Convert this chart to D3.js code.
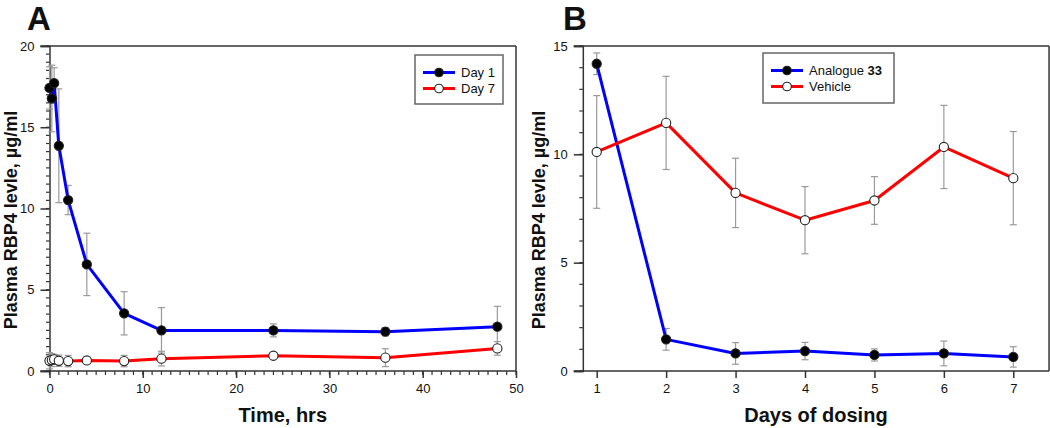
<!DOCTYPE html>
<html>
<head>
<meta charset="utf-8">
<script src="https://cdn.jsdelivr.net/npm/d3@7"></script>
<style>
  html, body { margin: 0; padding: 0; background: #fff; }
  svg { display: block; }
  text { font-family: Arial, "Liberation Sans", sans-serif; }
</style>
</head>
<body>
<svg id="chart" width="1050" height="428"></svg>
<script>
// ---------- Panel A data ----------
const timeHrs   = [0, 0.25, 0.5, 1, 2, 4, 8, 12, 24, 36, 48];
const day1Mean  = [17.42, 16.77, 17.71, 13.86, 10.52, 6.56, 3.55, 2.50, 2.50, 2.42, 2.73];
const day1Err   = [1.3, 2.05, 0.95, 3.5, 0.9, 1.92, 1.33, 1.4, 0.4, 0.25, 1.25];
const day7Mean  = [0.63, 0.67, 0.72, 0.63, 0.61, 0.65, 0.61, 0.76, 0.94, 0.82, 1.39];
const day7Err   = [0.5, 0.4, 0.3, 0.35, 0.35, 0.1, 0.35, 0.45, 0.1, 0.55, 0.42];
const xTicksA   = [0, 10, 20, 30, 40, 50];
const yTicksA   = [0, 5, 10, 15, 20];
const legendA   = ["Day 1", "Day 7"];

// ---------- Panel B data ----------
const days         = [1, 2, 3, 4, 5, 6, 7];
const analogueMean = [14.18, 1.46, 0.81, 0.92, 0.74, 0.81, 0.65];
const analogueErr  = [0.5, 0.5, 0.5, 0.4, 0.28, 0.57, 0.47];
const vehicleMean  = [10.11, 11.45, 8.22, 6.96, 7.87, 10.34, 8.90];
const vehicleErr   = [2.6, 2.15, 1.6, 1.55, 1.1, 1.92, 2.15];
const xTicksB      = [1, 2, 3, 4, 5, 6, 7];
const yTicksB      = [0, 5, 10, 15];

const svg = d3.select("#chart");
const BLUE = "#0000ff", RED = "#ff0000", AXIS = "#333", ERR = "#9a9a9a";

function panel(cfg) {
  const g = svg.append("g");
  const x = d3.scaleLinear().domain(cfg.xDomain).range([cfg.left, cfg.right]);
  const y = d3.scaleLinear().domain(cfg.yDomain).range([cfg.bottom, cfg.top]);
  const x0 = x(cfg.yAxisAt);
  const xR = x(cfg.xEnd);
  const tickL = 9;

  // frame: top, bottom, right
  const fr = g.append("g").attr("stroke", AXIS).attr("stroke-width", 1.5).attr("fill", "none");
  fr.append("line").attr("x1", x0 - tickL).attr("x2", xR).attr("y1", cfg.top).attr("y2", cfg.top);
  fr.append("line").attr("x1", x0 - tickL).attr("x2", xR).attr("y1", cfg.bottom).attr("y2", cfg.bottom);
  fr.append("line").attr("x1", xR).attr("x2", xR).attr("y1", cfg.top).attr("y2", cfg.bottom);

  // y axis at data position
  const yAxis = d3.axisLeft(y).tickValues(cfg.yTicks).tickSize(tickL).tickPadding(6).tickFormat(d3.format("d"));
  const ya = g.append("g").attr("transform", `translate(${x0},0)`).call(yAxis);
  ya.select(".domain").attr("stroke", AXIS).attr("stroke-width", 1.5);
  ya.selectAll(".tick line").attr("stroke", AXIS).attr("stroke-width", 1.5);
  ya.selectAll(".tick text").attr("font-size", 13).attr("fill", "#111");
  // y minor ticks
  const yMinor = d3.range(cfg.yDomain[0], cfg.yDomain[1] + 1e-9, cfg.yMinor);
  g.append("g").selectAll("line").data(yMinor).join("line")
    .attr("x1", x0 - 3.5).attr("x2", x0).attr("y1", d => y(d)).attr("y2", d => y(d))
    .attr("stroke", AXIS).attr("stroke-width", 1.2);

  // x axis
  const xAxis = d3.axisBottom(x).tickValues(cfg.xTicks).tickSize(7).tickPadding(6).tickFormat(d3.format("d"));
  const xa = g.append("g").attr("transform", `translate(0,${cfg.bottom})`).call(xAxis);
  xa.select(".domain").remove();
  xa.selectAll(".tick line").attr("stroke", AXIS).attr("stroke-width", 1.5);
  xa.selectAll(".tick text").attr("font-size", 13).attr("fill", "#111");
  if (cfg.xMinor) {
    const xMinor = d3.range(cfg.xTicks[0], cfg.xTicks[cfg.xTicks.length - 1] + 1e-9, cfg.xMinor);
    g.append("g").selectAll("line").data(xMinor).join("line")
      .attr("x1", d => x(d)).attr("x2", d => x(d)).attr("y1", cfg.bottom).attr("y2", cfg.bottom + 4)
      .attr("stroke", AXIS).attr("stroke-width", 1.2);
  }

  // titles
  g.append("text").attr("x", (x0 + xR) / 2).attr("y", 422)
    .attr("text-anchor", "middle").attr("font-size", 20).attr("font-weight", "bold").attr("fill", "#111")
    .text(cfg.xTitle);
  g.append("text").attr("transform", `translate(${cfg.yTitleX},220) rotate(-90)`)
    .attr("text-anchor", "middle").attr("font-size", 18).attr("font-weight", "bold").attr("fill", "#111")
    .text(cfg.yTitle);
  g.append("text").attr("x", cfg.letterX).attr("y", 30).attr("font-size", 33).attr("font-weight", "bold")
    .attr("fill", "#111").text(cfg.letter);

  // series
  cfg.series.forEach(s => {
    const pts = cfg.xs.map((xv, i) => ({ x: xv, y: s.mean[i], e: s.err[i] }));
    const eg = g.append("g").attr("stroke", ERR).attr("stroke-width", 1.2);
    pts.forEach(p => {
      eg.append("line").attr("x1", x(p.x)).attr("x2", x(p.x)).attr("y1", y(p.y + p.e)).attr("y2", y(Math.max(0, p.y - p.e)));
      [p.y + p.e, Math.max(0, p.y - p.e)].forEach(v =>
        eg.append("line").attr("x1", x(p.x) - 3.5).attr("x2", x(p.x) + 3.5).attr("y1", y(v)).attr("y2", y(v)));
    });
  });
  cfg.series.forEach(s => {
    const pts = cfg.xs.map((xv, i) => ({ x: xv, y: s.mean[i] }));
    g.append("path").datum(pts)
      .attr("d", d3.line().x(d => x(d.x)).y(d => y(d.y)))
      .attr("fill", "none").attr("stroke", s.color).attr("stroke-width", 3).attr("stroke-linejoin", "round");
  });
  cfg.series.forEach(s => {
    const pts = cfg.xs.map((xv, i) => ({ x: xv, y: s.mean[i] }));
    g.append("g").selectAll("circle").data(pts).join("circle")
      .attr("cx", d => x(d.x)).attr("cy", d => y(d.y)).attr("r", 4.6)
      .attr("fill", s.filled ? "#000" : "#fff").attr("stroke", "#222").attr("stroke-width", 1.1);
  });

  // legend
  const L = cfg.legend;
  const lg = g.append("g");
  lg.append("rect").attr("x", L.x).attr("y", L.y).attr("width", L.w).attr("height", L.h)
    .attr("fill", "#fff").attr("stroke", "#666").attr("stroke-width", 1.5);
  cfg.series.forEach((s, i) => {
    const cy = L.y + 17.5 + i * 16;
    lg.append("line").attr("x1", L.x + 8).attr("x2", L.x + 40).attr("y1", cy).attr("y2", cy)
      .attr("stroke", s.color).attr("stroke-width", 3);
    lg.append("circle").attr("cx", L.x + 24).attr("cy", cy).attr("r", 4.3)
      .attr("fill", s.filled ? "#000" : "#fff").attr("stroke", "#222").attr("stroke-width", 1.1);
    const t = lg.append("text").attr("x", L.x + 46).attr("y", cy + 4.6).attr("font-size", 13).attr("fill", "#111");
    s.label.forEach(part => t.append("tspan").attr("font-weight", part.bold ? "bold" : "normal").text(part.t));
  });
}

panel({
  letter: "A", letterX: 27,
  xDomain: [0, 50], left: 49.5, right: 516, xEnd: 50,
  yDomain: [0, 20], top: 46, bottom: 371,
  yAxisAt: 0, xTicks: xTicksA, yTicks: yTicksA, xMinor: 1, yMinor: 0.5,
  xTitle: "Time, hrs", yTitle: "Plasma RBP4 levle, µg/ml", yTitleX: 17,
  xs: timeHrs,
  series: [
    { mean: day1Mean, err: day1Err, color: BLUE, filled: true, label: [{ t: legendA[0] }] },
    { mean: day7Mean, err: day7Err, color: RED, filled: false, label: [{ t: legendA[1] }] }
  ],
  legend: { x: 415, y: 55, w: 88, h: 49 }
});

panel({
  letter: "B", letterX: 563,
  xDomain: [1, 7], left: 596.7, right: 1013.3, xEnd: 7.515,
  yDomain: [0, 15], top: 46, bottom: 371,
  yAxisAt: 0.8, xTicks: xTicksB, yTicks: yTicksB, xMinor: null, yMinor: 1,
  xTitle: "Days of dosing", yTitle: "Plasma RBP4 levle, µg/ml", yTitleX: 545,
  xs: days,
  series: [
    { mean: analogueMean, err: analogueErr, color: BLUE, filled: true, label: [{ t: "Analogue " }, { t: "33", bold: true }] },
    { mean: vehicleMean, err: vehicleErr, color: RED, filled: false, label: [{ t: "Vehicle" }] }
  ],
  legend: { x: 763, y: 53, w: 131, h: 50 }
});
</script>
</body>
</html>
